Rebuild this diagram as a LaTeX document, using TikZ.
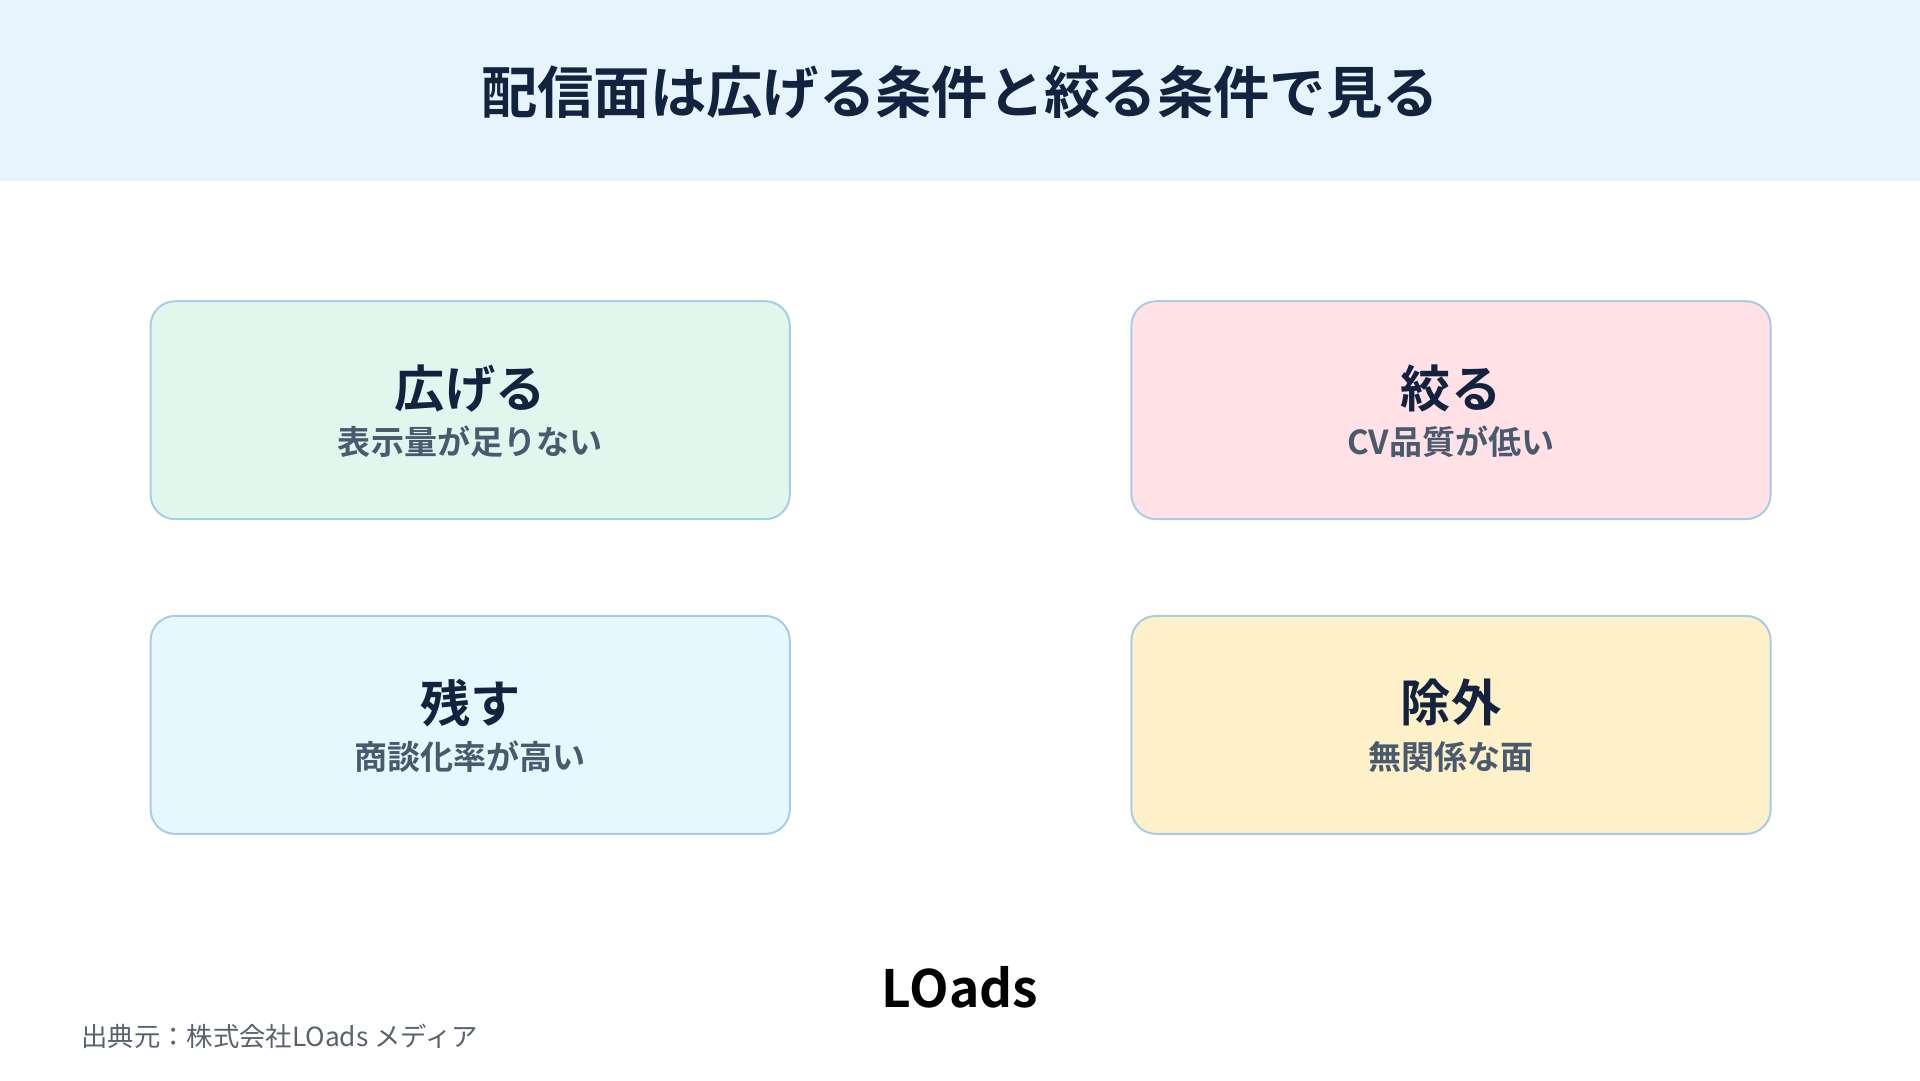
\documentclass[tikz,border=0pt]{standalone}
\usepackage{fontspec}
\setmainfont{Noto Sans CJK JP}[BoldFont={* Bold}]
\definecolor{hdr}{HTML}{E8F4FD}
\definecolor{navy}{HTML}{13233F}
\definecolor{sub}{HTML}{4A5A6E}
\definecolor{edge}{HTML}{A8CBE8}
\definecolor{fg}{HTML}{E0F7EE}
\definecolor{fp}{HTML}{FFE1E6}
\definecolor{fc}{HTML}{E5F8FD}
\definecolor{fy}{HTML}{FEF0C8}
\definecolor{foot}{HTML}{5A6270}
\tikzset{card/.style={draw=edge,line width=1.6bp,rounded corners=20bp,minimum width=522bp,minimum height=178bp,inner sep=0},
 ttl/.style={font=\fontsize{41bp}{45bp}\selectfont\bfseries,text=navy},
 stl/.style={font=\fontsize{27bp}{30bp}\selectfont\bfseries,text=sub}}
\begin{document}
\begin{tikzpicture}[x=1bp,y=-1bp]
\useasboundingbox (0,0) rectangle (1568,882);
\fill[white] (0,0) rectangle (1568,882);
\fill[hdr] (0,0) rectangle (1568,148);
\node[font=\fontsize{46bp}{50bp}\selectfont\bfseries,text=navy] (title) at (784,75) {配信面は広げる条件と絞る条件で見る};
\node[card,fill=fg] (c1) at (384,335) {};
\node[card,fill=fp] (c2) at (1185,335) {};
\node[card,fill=fc] (c3) at (384,592) {};
\node[card,fill=fy] (c4) at (1185,592) {};
\node[ttl] (t1) at (384,317) {広げる};
\node[stl] (s1) at (384,361) {表示量が足りない};
\node[ttl] (t2) at (1185,317) {絞る};
\node[stl] (s2) at (1185,361) {CV品質が低い};
\node[ttl] (t3) at (384,574) {残す};
\node[stl] (s3) at (384,618) {商談化率が高い};
\node[ttl] (t4) at (1185,574) {除外};
\node[stl] (s4) at (1185,618) {無関係な面};
\node[font=\fontsize{42bp}{46bp}\selectfont\bfseries,text=black] (logo) at (784,806) {LOads};
\node[anchor=west,font=\fontsize{21.5bp}{24bp}\selectfont,text=foot] (src) at (63,846) {出典元：株式会社LOads メディア};
\end{tikzpicture}
\end{document}
